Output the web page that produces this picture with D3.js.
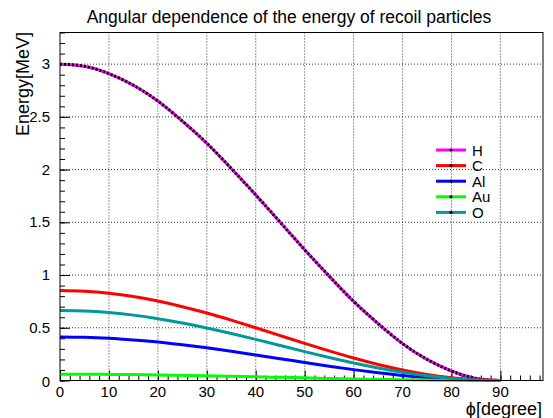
<!DOCTYPE html>
<html>
<head>
<meta charset="utf-8">
<script src="https://cdn.jsdelivr.net/npm/d3@7"></script>
<style>
  body { margin: 0; background: #fff; }
  svg { font-family: 'Liberation Sans', Arial, sans-serif; }
</style>
</head>
<body>
<svg id="chart" width="553" height="418"></svg>
<script>
// angle in degrees
const angles = [0, 5, 10, 15, 20, 25, 30, 35, 40, 45, 50, 55, 60, 65, 70, 75, 80, 85, 90];

// recoil energy in MeV
const energyH  = [3.00, 2.98, 2.91, 2.80, 2.65, 2.46, 2.25, 2.01, 1.76, 1.50, 1.24, 0.99, 0.75, 0.54, 0.35, 0.20, 0.09, 0.02, 0.00];
const energyC  = [0.853, 0.846, 0.827, 0.796, 0.753, 0.700, 0.640, 0.572, 0.500, 0.426, 0.352, 0.281, 0.213, 0.152, 0.100, 0.057, 0.026, 0.006, 0.00];
const energyAl = [0.413, 0.410, 0.401, 0.385, 0.365, 0.339, 0.310, 0.277, 0.242, 0.207, 0.171, 0.136, 0.103, 0.074, 0.048, 0.028, 0.012, 0.003, 0.00];
const energyAu = [0.060, 0.060, 0.058, 0.056, 0.053, 0.049, 0.045, 0.040, 0.035, 0.030, 0.025, 0.020, 0.015, 0.011, 0.007, 0.004, 0.002, 0.000, 0.000];
const energyO  = [0.664, 0.659, 0.644, 0.620, 0.586, 0.545, 0.498, 0.446, 0.390, 0.332, 0.274, 0.218, 0.166, 0.119, 0.078, 0.044, 0.020, 0.005, 0.00];

const seriesNames = ['H', 'C', 'Al', 'Au', 'O'];
const seriesColors = ['#ff00ff', '#ff0000', '#0000ff', '#00ff00', '#009999'];

const xTicks = [0, 10, 20, 30, 40, 50, 60, 70, 80, 90];
const yTicks = [0, 0.5, 1, 1.5, 2, 2.5, 3];
const yTickLabels = ['0', '0.5', '1', '1.5', '2', '2.5', '3'];

const margin = {top: 32.5, right: 10, bottom: 37.5, left: 60};
const width = 553 - margin.left - margin.right;
const height = 418 - margin.top - margin.bottom;

const svg = d3.select('#chart');
const g = svg.append('g').attr('transform', `translate(${margin.left},${margin.top})`);

const x = d3.scaleLinear().domain([0, 98.7]).range([0, width]);
const y = d3.scaleLinear().domain([0, 3.3]).range([height, 0]);

// grid
g.append('g').selectAll('line')
  .data(xTicks.filter(d => d > 0))
  .join('line')
  .attr('x1', d => x(d)).attr('x2', d => x(d))
  .attr('y1', 0).attr('y2', height)
  .style('stroke', '#333').style('stroke-dasharray', '1,2');
g.append('g').selectAll('line')
  .data(yTicks.filter(d => d > 0))
  .join('line')
  .attr('x1', 0).attr('x2', width)
  .attr('y1', d => y(d)).attr('y2', d => y(d))
  .style('stroke', '#333').style('stroke-dasharray', '1,2');

// axes with ticks pointing inward
const xMinor = d3.range(0, 99, 2);
const yMinor = d3.range(0, 3.31, 0.1);
const xAxisMinor = d3.axisTop(x).tickValues(xMinor).tickSize(5).tickFormat('');
const xAxis = d3.axisTop(x).tickValues(xTicks).tickSize(10).tickFormat('');
const yAxisMinor = d3.axisRight(y).tickValues(yMinor).tickSize(5).tickFormat('');
const yAxis = d3.axisRight(y).tickValues(yTicks).tickSize(10).tickFormat('');

[xAxisMinor, xAxis].forEach(a => {
  g.append('g').attr('transform', `translate(0,${height})`).call(a)
    .call(s => s.select('.domain').remove())
    .selectAll('line').style('stroke', '#000');
});
[yAxisMinor, yAxis].forEach(a => {
  g.append('g').call(a)
    .call(s => s.select('.domain').remove())
    .selectAll('line').style('stroke', '#000');
});

// tick labels
g.append('g').selectAll('text')
  .data(xTicks)
  .join('text')
  .attr('x', d => x(d))
  .attr('y', height + 16)
  .attr('text-anchor', 'middle')
  .style('font-size', '15px')
  .text(d => d);
g.append('g').selectAll('text')
  .data(yTicks)
  .join('text')
  .attr('x', -10)
  .attr('y', (d, i) => i === 0 ? y(d) + 6 : y(d) + 5)
  .attr('text-anchor', 'end')
  .style('font-size', '15px')
  .text((d, i) => yTickLabels[i]);

// curves
const allEnergy = [energyH, energyC, energyAl, energyAu, energyO];
const line = d3.line()
  .x((d, i) => x(angles[i]))
  .y(d => y(d))
  .curve(d3.curveNatural);

const curves = g.append('g');
allEnergy.forEach((vals, k) => {
  curves.append('path')
    .attr('d', line(vals))
    .style('fill', 'none')
    .style('stroke', seriesColors[k])
    .style('stroke-width', 3);
  if (k === 0) {
    curves.append('path')
      .attr('d', line(vals))
      .style('fill', 'none')
      .style('stroke', '#000')
      .style('stroke-width', 3)
      .style('stroke-dasharray', '2,2');
  }
});

// frame
g.append('rect')
  .attr('width', width).attr('height', height)
  .style('fill', 'none').style('stroke', '#000');

// legend
const legend = svg.append('g').attr('transform', 'translate(436,150)');
const rows = legend.selectAll('g')
  .data(seriesNames)
  .join('g')
  .attr('transform', (d, i) => `translate(0,${i * 15.6})`);
rows.append('line')
  .attr('x1', 0).attr('x2', 30)
  .style('stroke', (d, i) => seriesColors[i])
  .style('stroke-width', 3);
rows.append('circle')
  .attr('cx', 15).attr('r', 1.6)
  .style('fill', '#000');
rows.append('text')
  .attr('x', 36).attr('y', 5.5)
  .style('font-size', '15px')
  .text(d => d);

// titles
svg.append('text')
  .attr('x', 289).attr('y', 23)
  .attr('text-anchor', 'middle')
  .style('font-size', '17.5px')
  .text('Angular dependence of the energy of recoil particles');

svg.append('text')
  .attr('transform', 'translate(29,32) rotate(-90)')
  .attr('text-anchor', 'end')
  .style('font-size', '18px')
  .text('Energy[MeV]');

svg.append('text')
  .attr('x', 542).attr('y', 415)
  .attr('text-anchor', 'end')
  .style('font-size', '18px')
  .text('ϕ[degree]');
</script>
</body>
</html>
